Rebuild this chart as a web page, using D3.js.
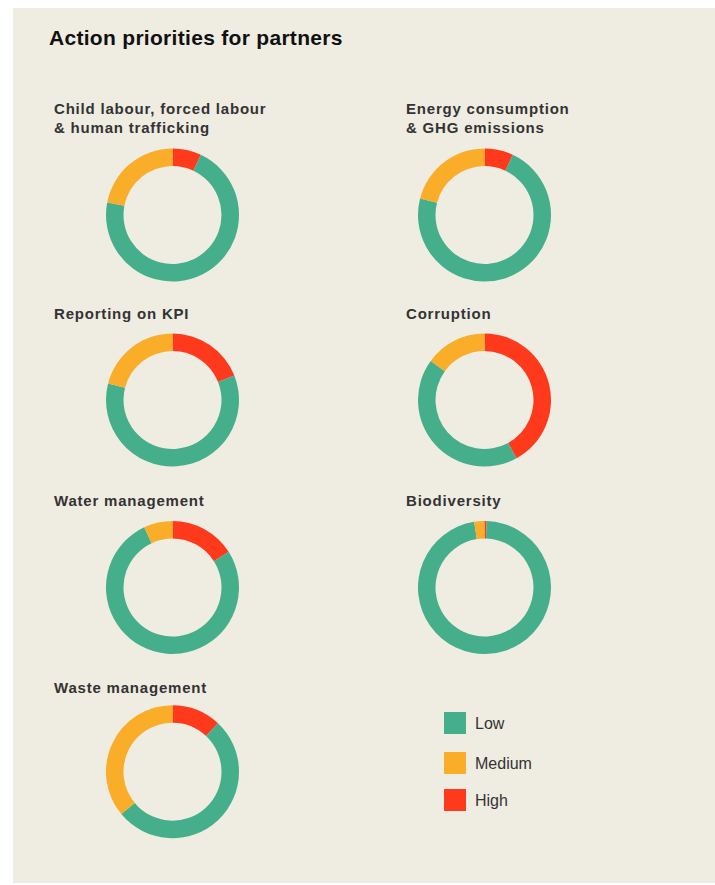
<!DOCTYPE html>
<html>
<head>
<meta charset="utf-8">
<script src="https://cdn.jsdelivr.net/npm/d3@7"></script>
<style>
  html, body { margin: 0; padding: 0; background: #fff; }
  svg { display: block; }
</style>
</head>
<body>
<svg id="chart" width="715" height="885"></svg>
<script>
// share of partners per priority level, in percent
var topics = [
  ["Child labour, forced labour", "& human trafficking"],
  ["Energy consumption", "& GHG emissions"],
  ["Reporting on KPI"],
  ["Corruption"],
  ["Water management"],
  ["Biodiversity"],
  ["Waste management"]
]
var levels = ["High", "Low", "Medium"]   // clockwise from 12 o'clock
var high   = [7, 7, 19, 42, 16, 0.5, 12]
var low    = [71, 72, 60, 43, 77, 97, 52]
var medium = [22, 21, 21, 15, 7, 2.5, 36]
var legendLabels = ["Low", "Medium", "High"]

var colors = { Low: "#45ae8a", Medium: "#f9ad29", High: "#ff391b" }

var svg = d3.select("#chart")

svg.append("rect")
  .attr("x", 13).attr("y", 8)
  .attr("width", 702).attr("height", 875)
  .attr("fill", "#efece2")

svg.append("text")
  .attr("x", 49).attr("y", 45)
  .attr("font-family", "Liberation Sans, Arial, sans-serif")
  .attr("font-weight", "bold")
  .attr("font-size", 21)
  .attr("letter-spacing", 0.3)
  .attr("fill", "#111")
  .text("Action priorities for partners")

var colX = [172.5, 484.5]
var titleX = [54, 406]
var rowY = [215, 400, 587.5, 771.7]
var titleY = [114, 319, 506, 693]

var pie = d3.pie().sort(null).value(function(d) { return d.value })
var arc = d3.arc().innerRadius(49).outerRadius(66.5)

topics.forEach(function(lines, i) {
  var col = i % 2, row = Math.floor(i / 2)
  var g = svg.append("g")

  var t = g.append("text")
    .attr("font-family", "Liberation Sans, Arial, sans-serif")
    .attr("font-weight", "bold")
    .attr("font-size", 15)
    .attr("letter-spacing", 0.8)
    .attr("fill", "#333")
  lines.forEach(function(line, j) {
    t.append("tspan")
      .attr("x", titleX[col])
      .attr("y", titleY[row] + j * 19)
      .text(line)
  })

  var data = [
    { level: "High", value: high[i] },
    { level: "Low", value: low[i] },
    { level: "Medium", value: medium[i] }
  ]

  g.append("g")
    .attr("transform", "translate(" + colX[col] + "," + rowY[row] + ")")
    .selectAll("path")
    .data(pie(data))
    .enter().append("path")
      .attr("d", arc)
      .attr("fill", function(d) { return colors[d.data.level] })
})

var legend = svg.append("g").attr("transform", "translate(444,712)")
var legendY = [0, 40, 77]

legend.selectAll("rect")
  .data(legendLabels)
  .enter().append("rect")
    .attr("x", 0)
    .attr("y", function(d, i) { return legendY[i] })
    .attr("width", 22).attr("height", 22)
    .attr("fill", function(d) { return colors[d] })

legend.selectAll("text")
  .data(legendLabels)
  .enter().append("text")
    .attr("x", 31)
    .attr("y", function(d, i) { return legendY[i] + 16.7 })
    .attr("font-family", "Liberation Sans, Arial, sans-serif")
    .attr("font-size", 16)
    .attr("fill", "#333")
    .text(function(d) { return d })
</script>
</body>
</html>
